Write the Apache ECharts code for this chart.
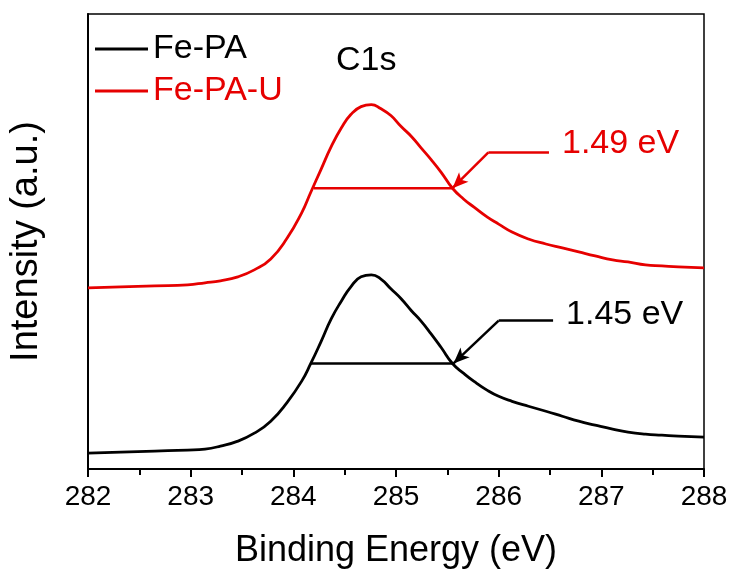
<!DOCTYPE html>
<html>
<head>
<meta charset="utf-8">
<style>
    html, body { margin: 0; padding: 0; background: #fff; }
    #chart { width: 733px; height: 574px; }
</style>
<script src="https://cdn.jsdelivr.net/npm/echarts@6/dist/echarts.min.js"></script>
</head>
<body>
<div id="chart"></div>
<script>
// binding energy (eV)
var energy = [282.0, 282.32, 282.65, 282.97, 283.14, 283.29, 283.46, 283.62, 283.78, 283.94,
    284.08, 284.17, 284.27, 284.37, 284.47, 284.56, 284.66, 284.76, 284.85, 284.95,
    285.05, 285.15, 285.24, 285.34, 285.44, 285.55, 285.66, 285.76, 285.89, 286.0,
    286.13, 286.29, 286.46, 286.62, 286.78, 286.94, 287.11, 287.26, 287.43, 287.59,
    287.75, 288.0];
// intensity (a.u.)
var fePA = [16, 17, 18, 19, 20, 23, 28, 36, 48, 67,
    88, 106, 128, 151, 169, 183, 193, 195, 191, 181,
    171, 159, 149, 136, 122, 106, 96, 88, 79, 73,
    68, 63, 58, 53, 48, 44, 40, 37, 35, 34,
    33, 32];
var fePAU = [182, 183, 184, 185, 187, 189, 193, 200, 211, 232,
    257, 278, 301, 324, 343, 356, 364, 366, 362, 355,
    344, 334, 323, 311, 298, 282, 271, 263, 253, 246,
    238, 231, 226, 222, 218, 214, 210, 208, 205, 204,
    203, 202];
var seriesNames = ["Fe-PA", "Fe-PA-U"];
var seriesColors = ["#000000", "#e60000"];

// FWHM bars: [left, right], arrow: [tip, elbow, end]
var fwhmBlack = [[284.17, 106], [285.56, 106]];
var arrowBlack = [[285.56, 106], [286.0, 149], [286.53, 149]];
var fwhmRed = [[284.20, 282], [285.55, 282]];
var arrowRed = [[285.55, 282], [285.90, 318], [286.49, 318]];
var fwhmLabels = ["1.45 eV", "1.49 eV"];

function pairs(xs, ys) {
    var out = [];
    for (var i = 0; i < xs.length; i++) {
        out.push([xs[i], ys[i]]);
    }
    return out;
}

function fwhmSeries(name, bar, arrow, label, color, dy) {
    return {
        name: name,
        type: "line",
        data: bar,
        symbol: "none",
        silent: true,
        z: 3,
        lineStyle: { color: color, width: 2.5 },
        markLine: {
            silent: true,
            animation: false,
            symbol: ["none", "none"],
            label: { show: false },
            lineStyle: { color: color, width: 2.5, type: "solid" },
            data: [
                [{ coord: arrow[1], symbol: "none" }, { coord: arrow[0], symbol: "arrow", symbolSize: [10, 16] }],
                [{ coord: arrow[1] }, { coord: arrow[2] }]
            ]
        },
        markPoint: {
            silent: true,
            symbol: "circle",
            symbolSize: 0,
            animation: false,
            label: {
                show: true,
                position: "right",
                distance: 13,
                offset: [0, dy],
                color: color,
                fontFamily: "Liberation Sans, Arial",
                fontSize: 34,
                formatter: label
            },
            data: [{ coord: arrow[2] }]
        }
    };
}

var myChart = echarts.init(document.getElementById("chart"), null, { renderer: "canvas" });
var option = {
    backgroundColor: "#fff",
    animation: false,
    textStyle: { fontFamily: "Liberation Sans, Arial" },
    grid: {
        left: 86,
        right: 29,
        top: 14,
        bottom: 103,
        show: true,
        borderColor: "#000",
        borderWidth: 1.5
    },
    legend: {
        orient: "vertical",
        left: 95,
        top: 32,
        padding: 0,
        icon: "rect",
        itemWidth: 53,
        itemHeight: 3,
        itemGap: 8,
        textStyle: { fontSize: 34, color: "#000" },
        data: [
            { name: seriesNames[0], textStyle: { color: seriesColors[0] } },
            { name: seriesNames[1], textStyle: { color: seriesColors[1] } }
        ]
    },
    xAxis: {
        type: "value",
        min: 282,
        max: 288,
        interval: 1,
        name: "Binding Energy (eV)",
        nameLocation: "middle",
        nameGap: 64,
        nameTextStyle: { fontSize: 36, color: "#000" },
        axisLine: { lineStyle: { color: "#000", width: 2 } },
        axisTick: { inside: false, length: 8, lineStyle: { color: "#000", width: 2 } },
        minorTick: { show: true, splitNumber: 2, length: 6, lineStyle: { color: "#000", width: 2 } },
        axisLabel: { fontSize: 28, color: "#000", margin: 14 },
        splitLine: { show: false }
    },
    yAxis: {
        type: "value",
        min: 0,
        max: 457,
        name: "Intensity (a.u.)",
        nameLocation: "middle",
        nameGap: 42,
        nameTextStyle: { fontSize: 38, color: "#000" },
        axisLine: { show: true, lineStyle: { color: "#000", width: 2 } },
        axisTick: { show: false },
        axisLabel: { show: false },
        splitLine: { show: false }
    },
    graphic: [{
        type: "text",
        left: 336,
        top: 44,
        style: { text: "C1s", fontSize: 34, fill: "#000", fontFamily: "Liberation Sans, Arial" }
    }],
    series: [
        {
            name: seriesNames[0],
            type: "line",
            data: pairs(energy, fePA),
            symbol: "none",
            smooth: 0.5,
            z: 4,
            color: seriesColors[0],
            lineStyle: { color: seriesColors[0], width: 2.8 }
        },
        {
            name: seriesNames[1],
            type: "line",
            data: pairs(energy, fePAU),
            symbol: "none",
            smooth: 0.5,
            z: 4,
            color: seriesColors[1],
            lineStyle: { color: seriesColors[1], width: 2.8 }
        },
        fwhmSeries("fwhm-black", fwhmBlack, arrowBlack, fwhmLabels[0], seriesColors[0], -6),
        fwhmSeries("fwhm-red", fwhmRed, arrowRed, fwhmLabels[1], seriesColors[1], -9)
    ]
};
myChart.setOption(option, true);
</script>
</body>
</html>
